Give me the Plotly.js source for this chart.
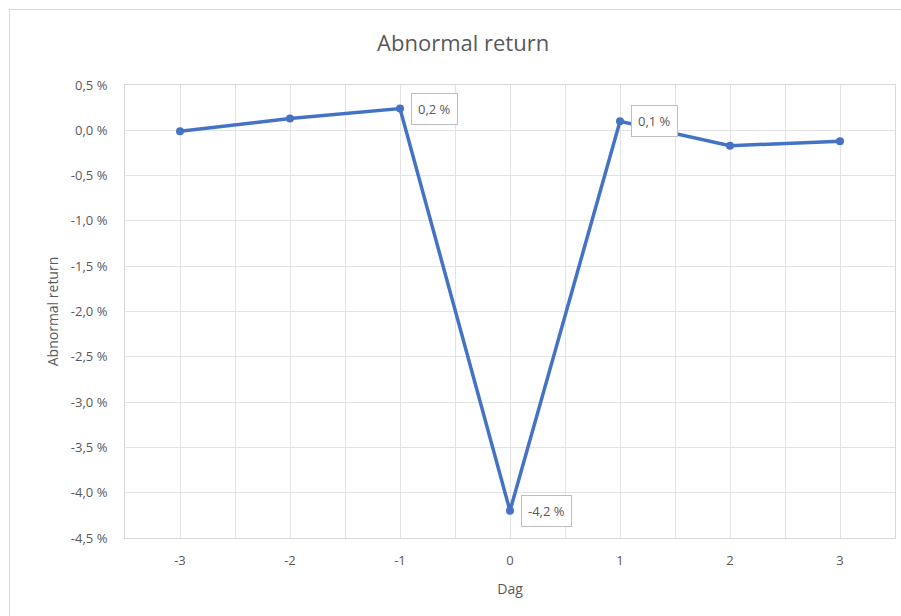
<!DOCTYPE html>
<html><head><meta charset="utf-8">
<script src="https://cdn.plot.ly/plotly-3.0.1.min.js"></script>
<style>
html,body{margin:0;padding:0;background:#fff;overflow:hidden;}
#frame{position:absolute;left:9px;top:9px;width:1000px;height:1000px;border:1px solid #d9d9d9;box-sizing:border-box;}
#chart{position:absolute;left:0;top:0;width:901px;height:616px;}
</style></head>
<body>
<div id="frame"></div>
<div id="chart"></div>
<script>
const days = [-3, -2, -1, 0, 1, 2, 3];
const abnormalReturn = [-0.01, 0.13, 0.24, -4.20, 0.10, -0.17, -0.12];
const labelledDays = [-1, 0, 1];
const xTickVals = [-3, -2, -1, 0, 1, 2, 3];
const xTickText = ['-3', '-2', '-1', '0', '1', '2', '3'];
const yTickVals = [0.5, 0, -0.5, -1, -1.5, -2, -2.5, -3, -3.5, -4, -4.5];
const yTickText = ['0,5 %', '0,0 %', '-0,5 %', '-1,0 %', '-1,5 %', '-2,0 %', '-2,5 %', '-3,0 %', '-3,5 %', '-4,0 %', '-4,5 %'];

const fontFam = 'Open Sans, Noto Sans, sans-serif';
const grey = '#595959';
const gridC = '#e3e3e3';

const fmt = v => (v < 0 ? '-' : '') + Math.abs(v).toFixed(1).replace('.', ',') + ' %';

const annotations = labelledDays.map(d => {
  const i = days.indexOf(d);
  return {
    x: d, y: abnormalReturn[i], xref: 'x', yref: 'y',
    text: fmt(abnormalReturn[i]), showarrow: false,
    xanchor: 'left', yanchor: 'middle', xshift: 11,
    bgcolor: '#ffffff', bordercolor: '#bfbfbf', borderwidth: 1, borderpad: 6,
    font: {family: fontFam, size: 13, color: grey}
  };
});

const trace = {
  x: days, y: abnormalReturn, type: 'scatter', mode: 'lines+markers',
  line: {color: '#4472C4', width: 3.5},
  marker: {color: '#4472C4', size: 8},
  hoverinfo: 'none'
};

const layout = {
  width: 901, height: 616,
  paper_bgcolor: 'rgba(0,0,0,0)', plot_bgcolor: '#ffffff',
  margin: {l: 125, r: 6, t: 85, b: 78},
  showlegend: false,
  title: {text: 'Abnormal return', x: 0.514, xanchor: 'center', y: 0.93, yanchor: 'middle',
          font: {family: fontFam, size: 22, color: grey}},
  xaxis: {
    range: [-3.5, 3.5], tickvals: xTickVals, ticktext: xTickText,
    showgrid: true, gridcolor: gridC, gridwidth: 1,
    minor: {tick0: -3.5, dtick: 1, showgrid: true, gridcolor: gridC, gridwidth: 1},
    showline: true, linecolor: '#d9d9d9', linewidth: 1, mirror: true,
    zeroline: false, ticks: 'outside', ticklen: 10, tickcolor: 'rgba(0,0,0,0)',
    tickfont: {family: fontFam, size: 13, color: grey},
    title: {text: 'Dag', standoff: 16, font: {family: fontFam, size: 14, color: grey}}
  },
  yaxis: {
    range: [-4.5, 0.5], tickvals: yTickVals, ticktext: yTickText,
    showgrid: true, gridcolor: gridC, gridwidth: 1,
    showline: true, linecolor: '#d9d9d9', linewidth: 1, mirror: true,
    zeroline: false, ticks: 'outside', ticklen: 14, tickcolor: 'rgba(0,0,0,0)',
    tickfont: {family: fontFam, size: 13, color: grey},
    title: {text: 'Abnormal return', standoff: 8, font: {family: fontFam, size: 14, color: grey}}
  },
  annotations: annotations
};

Plotly.newPlot('chart', [trace], layout, {displayModeBar: false, staticPlot: true});
</script>
</body></html>
